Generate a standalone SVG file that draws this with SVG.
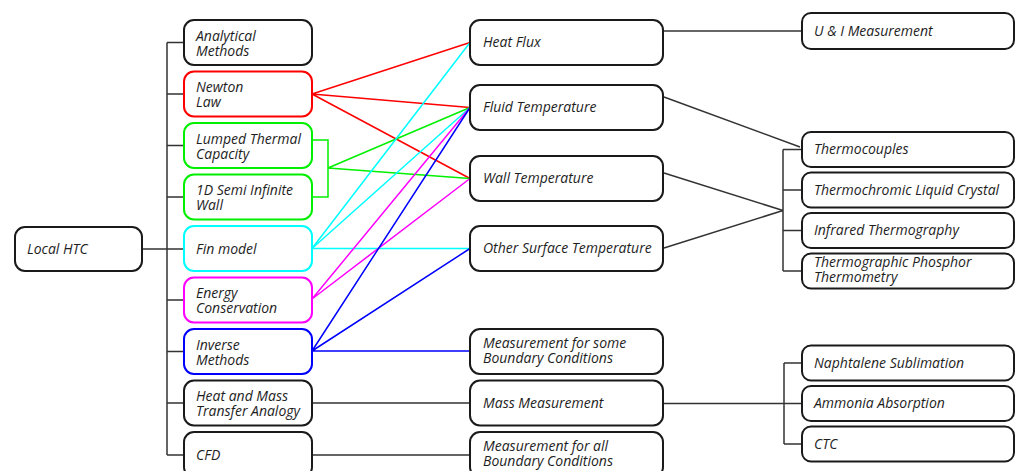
<svg xmlns="http://www.w3.org/2000/svg" width="1016" height="471" viewBox="0 0 1016 471">
<style>
.box{fill:#fff;stroke:#1a1a1a;stroke-width:2}
.t{font-family:"Open Sans","Noto Sans",sans-serif;font-style:italic;font-size:14px;fill:#1e1e1e}
.k{fill:none;stroke:#333;stroke-width:1.5}
.r{stroke:#ff0000}.g{stroke:#00f000}.c{stroke:#00ffff}.m{stroke:#ff00ff}.b{stroke:#0000ff}
.cl{fill:none;stroke-width:1.5}
</style>
<rect width="1016" height="471" fill="#fff"/>
<g id="connectors">
<path class="k" d="M142 249H184M167 42.5V455M167 42.5H184M167 94H184M167 145.5H184M167 197H184M167 300H184M167 351.5H184M167 403H184M167 455H184"/>
<path class="k" d="M312 403H470M312 455H470"/>
<path class="k" d="M663 31H802"/>
<path class="k" d="M664 97L800 147M664 173L783 210.5M664 248L783 210.5M783 149.5V271M783 149.5H802M783 190H802M783 230.5H802M783 271H802"/>
<path class="k" d="M663 403.5H802M784 363V444M784 363H802M784 444H802"/>
<path class="cl r" d="M312 94L470 42.5M312 94L470 107.5M312 94L470 178.5"/>
<path class="cl g" d="M312 140H328V197H312M328 168L470 107.5M328 168L470 178.5"/>
<path class="cl c" d="M312 248.5L470 42.5M312 248.5L470 107.5M312 248.5H470"/>
<path class="cl m" d="M312 299L470 107.5M312 299L470 178.5"/>
<path class="cl b" d="M312 351L470 107.5M312 351L470 248.5M312 351H470"/>
</g>
<g id="n-local"><rect class="box" x="15" y="227" width="127" height="44" rx="10"/><text class="t" x="27" y="254">Local HTC</text></g>
<g id="n-analytical"><rect class="box" x="184" y="20" width="128" height="45" rx="10"/><text class="t" x="196" y="40.5">Analytical<tspan x="196" dy="15">Methods</tspan></text></g>
<g id="n-newton"><rect class="box" x="184" y="71.5" width="128" height="45" rx="10" style="stroke:#ff0000"/><text class="t" x="196" y="92">Newton<tspan x="196" dy="15">Law</tspan></text></g>
<g id="n-lumped"><rect class="box" x="184" y="123" width="128" height="45" rx="10" style="stroke:#00f000"/><text class="t" x="196" y="143.5">Lumped Thermal<tspan x="196" dy="15">Capacity</tspan></text></g>
<g id="n-semi"><rect class="box" x="184" y="174.5" width="128" height="45" rx="10" style="stroke:#00f000"/><text class="t" x="196" y="195">1D Semi Infinite<tspan x="196" dy="15">Wall</tspan></text></g>
<g id="n-fin"><rect class="box" x="184" y="226" width="128" height="45" rx="10" style="stroke:#00ffff"/><text class="t" x="196" y="253.5">Fin model</text></g>
<g id="n-energy"><rect class="box" x="184" y="277.5" width="128" height="45" rx="10" style="stroke:#ff00ff"/><text class="t" x="196" y="298">Energy<tspan x="196" dy="15">Conservation</tspan></text></g>
<g id="n-inverse"><rect class="box" x="184" y="329" width="128" height="45" rx="10" style="stroke:#0000ff"/><text class="t" x="196" y="349.5">Inverse<tspan x="196" dy="15">Methods</tspan></text></g>
<g id="n-hmta"><rect class="box" x="184" y="380.5" width="128" height="45" rx="10"/><text class="t" x="196" y="401">Heat and Mass<tspan x="196" dy="15">Transfer Analogy</tspan></text></g>
<g id="n-cfd"><rect class="box" x="184" y="432" width="128" height="45" rx="10"/><text class="t" x="196" y="460">CFD</text></g>
<g id="n-heatflux"><rect class="box" x="470" y="20" width="193" height="45" rx="10"/><text class="t" x="483" y="47">Heat Flux</text></g>
<g id="n-fluid"><rect class="box" x="470" y="85" width="193" height="45" rx="10"/><text class="t" x="483" y="112">Fluid Temperature</text></g>
<g id="n-wall"><rect class="box" x="470" y="156" width="193" height="45" rx="10"/><text class="t" x="483" y="183">Wall Temperature</text></g>
<g id="n-other"><rect class="box" x="470" y="226" width="193" height="45" rx="10"/><text class="t" x="483" y="253">Other Surface Temperature</text></g>
<g id="n-some"><rect class="box" x="470" y="329" width="193" height="45" rx="10"/><text class="t" x="483" y="347.5">Measurement for some<tspan x="483" dy="15">Boundary Conditions</tspan></text></g>
<g id="n-mass"><rect class="box" x="470" y="380.5" width="193" height="45" rx="10"/><text class="t" x="483" y="408">Mass Measurement</text></g>
<g id="n-all"><rect class="box" x="470" y="432" width="193" height="45" rx="10"/><text class="t" x="483" y="450.5">Measurement for all<tspan x="483" dy="15">Boundary Conditions</tspan></text></g>
<g id="n-ui"><rect class="box" x="802" y="13" width="212" height="36" rx="9"/><text class="t" x="814" y="36">U &amp; I Measurement</text></g>
<g id="n-tc"><rect class="box" x="802" y="132" width="212" height="35" rx="9"/><text class="t" x="814" y="154">Thermocouples</text></g>
<g id="n-tlc"><rect class="box" x="802" y="172.5" width="212" height="35" rx="9"/><text class="t" x="814" y="194.5">Thermochromic Liquid Crystal</text></g>
<g id="n-ir"><rect class="box" x="802" y="213" width="212" height="35" rx="9"/><text class="t" x="814" y="235">Infrared Thermography</text></g>
<g id="n-tpt"><rect class="box" x="802" y="253.5" width="212" height="35" rx="9"/><text class="t" x="814" y="267">Thermographic Phosphor<tspan x="814" dy="15">Thermometry</tspan></text></g>
<g id="n-naph"><rect class="box" x="802" y="345.5" width="212" height="35" rx="9"/><text class="t" x="814" y="367.5">Naphtalene Sublimation</text></g>
<g id="n-amm"><rect class="box" x="802" y="386" width="212" height="35" rx="9"/><text class="t" x="814" y="408">Ammonia Absorption</text></g>
<g id="n-ctc"><rect class="box" x="802" y="426.5" width="212" height="35" rx="9"/><text class="t" x="814" y="448.5">CTC</text></g>
</svg>
